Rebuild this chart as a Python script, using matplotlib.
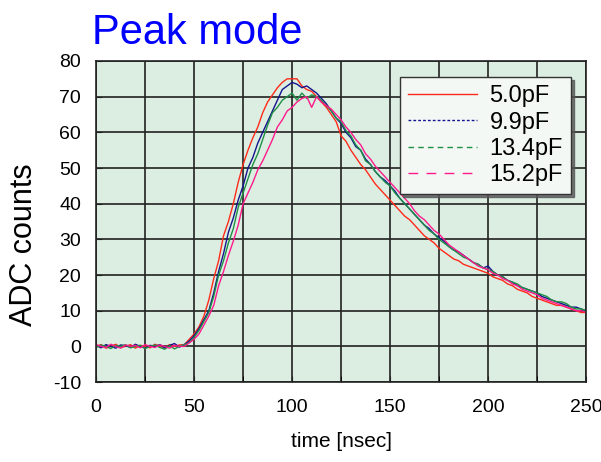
import numpy as np
import matplotlib.pyplot as plt
from matplotlib.lines import Line2D

plt.rcParams['font.family'] = ['Liberation Sans', 'DejaVu Sans']
plt.rcParams['axes.unicode_minus'] = False

# time axis, 2.5 ns sampling
t = np.arange(0, 250.1, 2.5)

labels = ['5.0pF', '9.9pF', '13.4pF', '15.2pF']
colors = ['#ff2a1a', '#14148c', '#1f8f45', '#ff1a8c']
legend_styles = ['-', (0, (2, 1.5)), (0, (4, 3)), (0, (7, 6))]

# ADC counts
c_5p0 = [0, 0.5, -0.5, 0, 0.6, -0.3, 0, 0.5, -0.5, 0.3, 0, -0.4, 0.6, 0, -0.3, 0.5, 0, 0.4,
         0.5, 2, 3.5, 5.5, 8.5, 13, 19, 24, 31, 35, 40, 46, 51, 55, 58.5, 61.5, 65.5, 68.5,
         70.5, 72.5, 74, 75, 75, 75, 73, 72, 71.5, 70, 68.5, 67, 65, 63, 59, 57.5, 55, 53,
         51, 49.5, 47.5, 45.5, 44, 42.5, 41, 39.5, 38, 36.5, 35.5, 34, 32.5, 31, 30, 29,
         27.5, 26.5, 25.5, 24.5, 24, 23, 22.5, 22, 21.5, 21, 20.5, 19.5, 19, 18.5, 17.5, 17,
         16, 15.5, 15, 14, 13.5, 13, 12.5, 12, 11.5, 11.5, 11, 10.5, 10, 9.5, 9.5]
c_9p9 = [0.3, -0.4, 0.5, 0, -0.5, 0.4, 0.2, -0.3, 0.6, 0, -0.5, 0.3, 0, 0.5, -0.4, 0.3, 0.8, -0.2,
         0.5, 1.5, 3, 5, 7.5, 10, 15, 21, 26, 32, 36, 41, 45, 50, 53, 57, 60, 63,
         66, 69, 72, 73, 74, 73.5, 72.5, 73, 72, 71, 69.5, 68, 66, 64, 62.5, 60, 58.5, 56,
         55, 52.5, 51, 49, 47.5, 46.5, 45, 43.5, 41.5, 40, 38.5, 37, 35.5, 34, 33, 31.5,
         30.5, 29.5, 28, 27, 26.5, 25.5, 24.5, 23.5, 23, 22, 22.5, 21, 20, 19.5, 18.5, 18,
         17, 16.5, 16, 15.5, 15, 14, 13.5, 13, 12.5, 12, 11.5, 11, 11, 10.5, 10]
c_13p4 = [-0.3, 0.4, 0, -0.6, 0.3, 0, 0.5, -0.4, 0, 0.3, -0.6, 0, 0.4, -0.3, -0.8, 0.2, -0.7, 0,
          0.5, 1, 2.5, 4.5, 7, 9.5, 14, 20, 24, 29, 33, 39, 43, 47, 51, 54, 58, 62,
          65.5, 67, 69, 70, 71, 69, 71, 69.5, 70.5, 70, 69, 67.5, 66, 64, 63, 60.5, 59, 56.5,
          55, 52, 51, 49, 47.5, 46, 45, 43, 41.5, 40, 38.5, 37, 35.5, 34, 32.5, 31.5,
          30, 29, 28, 27, 26, 25, 24.5, 23.5, 23, 22, 21.5, 21, 20, 19.5, 18.5, 18,
          17.5, 16.5, 16, 15.5, 15, 14.5, 14, 13, 12.5, 12.5, 12, 11, 10.5, 10.5, 10]
c_15p2 = [0.5, 0, -0.3, 0.6, 0, -0.5, 0.4, 0, 0.3, -0.4, 0.5, 0, -0.3, 0.4, 0, -0.5, 0.3, 0,
          0, 1, 2, 3.5, 6, 8.5, 11.5, 17, 21, 25.5, 29.5, 34, 40, 43, 46, 49.5, 52, 55,
          58, 61.5, 63.5, 66, 67, 68.5, 69.5, 70, 67, 70, 68.5, 67.5, 66.5, 65, 63.5, 61.5, 60, 58,
          56.5, 54, 52.5, 50.5, 49, 47.5, 46, 44.5, 43, 41.5, 40, 38, 36.5, 35.5, 34, 32.5,
          31.5, 30, 28.5, 27.5, 26.5, 25.5, 24.5, 23.5, 22.5, 22, 21.5, 20.5, 20, 19, 18.5, 17.5,
          17, 16, 15.5, 15, 14.5, 13.5, 13, 12.5, 12, 11.5, 11, 10.5, 10, 10, 9.5]
series = [c_5p0, c_9p9, c_13p4, c_15p2]

fig = plt.figure(figsize=(6.01, 4.62), dpi=100)
ax = fig.add_axes([0.160, 0.173, 0.815, 0.695])
ax.set_facecolor('#dcede1')

for y, c in zip(series, colors):
    ax.plot(t, y, color=c, lw=1.0)

ax.set_xlim(0, 250)
ax.set_ylim(-10, 80)
ax.set_xticks(np.arange(0, 251, 50))
ax.set_xticks(np.arange(0, 251, 25), minor=True)
ax.set_yticks(np.arange(-10, 81, 10))
ax.grid(True, which='both', color='#222222', lw=1.2)
ax.set_axisbelow(True)
ax.tick_params(direction='in', labelsize=14, length=4, color='#222222')
ax.tick_params(axis='x', pad=12)
ax.tick_params(axis='y', pad=11)
ax.tick_params(which='minor', direction='in', length=4)
for s in ax.spines.values():
    s.set_color('#222222')
    s.set_linewidth(1.2)

ax.set_xlabel('time [nsec]', fontsize=15, labelpad=12)
ax.set_ylabel('ADC counts', fontsize=22)
ax.yaxis.set_label_coords(-0.117, 0.427)
fig.text(0.153, 0.905, 'Peak mode', color='#0000ff', fontsize=30)

handles = [Line2D([], [], color=c, ls=ls, lw=1.0) for c, ls in zip(colors, legend_styles)]
leg = ax.legend(handles, labels, loc='upper left', bbox_to_anchor=(0.62, 0.95),
                fontsize=17, handlelength=2.9, handletextpad=0.55, labelspacing=0.18,
                fancybox=False, framealpha=1, borderpad=0.35, borderaxespad=0,
                shadow={'color': '#555555', 'alpha': 0.8})
leg.get_frame().set_facecolor('#f3f8f4')
leg.get_frame().set_edgecolor('#333333')
leg.get_frame().set_linewidth(1.0)

fig.savefig('out.png', dpi=100)
